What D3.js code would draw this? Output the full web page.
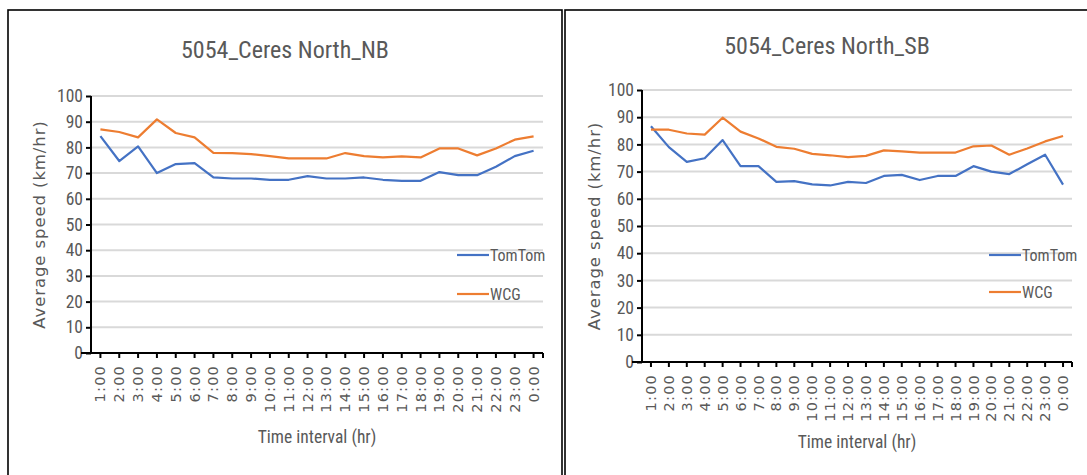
<!DOCTYPE html>
<html>
<head>
<meta charset="utf-8">
<script src="https://cdn.jsdelivr.net/npm/d3@7"></script>
<style>
  html, body { margin: 0; padding: 0; background: #fff; }
  svg { display: block; }
  .narrow { font-family: "Liberation Sans Narrow", "Roboto Condensed", "Open Sans Condensed", "Liberation Sans", sans-serif; }
</style>
</head>
<body>
<svg id="chart" width="1087" height="475"></svg>
<script>
// Hourly time intervals shared by both panels
const hours = ["1:00","2:00","3:00","4:00","5:00","6:00","7:00","8:00","9:00","10:00","11:00","12:00",
               "13:00","14:00","15:00","16:00","17:00","18:00","19:00","20:00","21:00","22:00","23:00","0:00"];
const yTicks = [0, 10, 20, 30, 40, 50, 60, 70, 80, 90, 100];
const seriesNames = ["TomTom", "WCG"];

// Northbound average speeds (km/hr)
const nbTomTom = [84.4, 74.7, 80.4, 70.0, 73.5, 73.9, 68.3, 67.9, 67.9, 67.4, 67.4, 68.8,
                  67.9, 67.9, 68.3, 67.4, 67.0, 67.0, 70.4, 69.2, 69.2, 72.5, 76.6, 78.7];
const nbWCG    = [87.0, 86.0, 83.9, 90.9, 85.6, 83.9, 77.9, 77.8, 77.4, 76.6, 75.7, 75.7,
                  75.7, 77.8, 76.6, 76.1, 76.5, 76.1, 79.6, 79.6, 76.9, 79.6, 83.0, 84.3];

// Southbound average speeds (km/hr)
const sbTomTom = [86.7, 79.0, 73.6, 74.9, 81.6, 72.0, 72.0, 66.2, 66.5, 65.3, 64.9, 66.2,
                  65.8, 68.4, 68.8, 66.9, 68.4, 68.4, 72.0, 70.0, 69.1, 72.7, 76.2, 65.2];
const sbWCG    = [85.4, 85.4, 84.0, 83.6, 89.8, 84.7, 82.2, 79.1, 78.4, 76.5, 76.0, 75.3,
                  75.8, 77.8, 77.4, 77.0, 77.0, 77.0, 79.3, 79.6, 76.2, 78.5, 81.1, 83.1];

const colors = { TomTom: "#4472C4", WCG: "#ED7D31" };
const grey = "#595959";

const svg = d3.select("#chart");

// Panel frames
svg.append("rect").attr("x", 8).attr("y", 10).attr("width", 554).attr("height", 480)
  .attr("fill", "none").attr("stroke", "#000").attr("stroke-width", 1.6);
svg.append("rect").attr("x", 565).attr("y", 10).attr("width", 540).attr("height", 480)
  .attr("fill", "none").attr("stroke", "#000").attr("stroke-width", 1.6);

const panels = [
  { title: "5054_Ceres North_NB", tomtom: nbTomTom, wcg: nbWCG,
    left: 91, right: 543, top: 96, bottom: 353, titleX: 285, titleY: 58,
    yTitleX: 45, xTitleX: 317, xTitleY: 443, legendX: 457, legendY: [255, 294] },
  { title: "5054_Ceres North_SB", tomtom: sbTomTom, wcg: sbWCG,
    left: 642, right: 1072, top: 90, bottom: 362, titleX: 827, titleY: 54,
    yTitleX: 600, xTitleX: 857, xTitleY: 448, legendX: 989, legendY: [255, 292] }
];

panels.forEach(p => {
  const g = svg.append("g");
  const x = d3.scaleBand().domain(hours).range([p.left, p.right]);
  const y = d3.scaleLinear().domain([0, 100]).range([p.bottom, p.top]);
  const cx = d => x(d) + x.bandwidth() / 2;

  // Title
  g.append("text").attr("class", "narrow")
    .attr("x", p.titleX).attr("y", p.titleY).attr("text-anchor", "middle")
    .attr("font-size", 24).attr("fill", grey).text(p.title);

  // Horizontal gridlines
  g.append("g").selectAll("line").data(yTicks.filter(v => v > 0)).join("line")
    .attr("x1", p.left).attr("x2", p.right)
    .attr("y1", d => y(d)).attr("y2", d => y(d))
    .attr("stroke", "#D9D9D9").attr("stroke-width", 2);

  // Y axis
  const yAxis = g.append("g").attr("transform", `translate(${p.left},0)`)
    .call(d3.axisLeft(y).tickValues(yTicks).tickSize(5).tickPadding(3));
  yAxis.select(".domain").attr("stroke", "#000").attr("stroke-width", 2)
    .attr("d", `M0,${p.bottom}V${p.top}`);
  yAxis.selectAll(".tick line").attr("stroke", "#000").attr("stroke-width", 2);
  yAxis.selectAll(".tick text").attr("class", "narrow").attr("font-size", 17.5).attr("fill", grey);

  // X axis
  const xAxis = g.append("g").attr("transform", `translate(0,${p.bottom})`)
    .call(d3.axisBottom(x).tickSize(5).tickPadding(8));
  xAxis.select(".domain").attr("stroke", "#000").attr("stroke-width", 2)
    .attr("d", `M${p.left - 10},0H${p.right}`);
  xAxis.selectAll(".tick line").attr("stroke", "#000").attr("stroke-width", 2);
  xAxis.selectAll(".tick text")
    .attr("font-family", "DejaVu Sans, sans-serif").attr("font-size", 14.5)
    .attr("letter-spacing", 1.2).attr("fill", grey)
    .attr("text-anchor", "end").attr("dy", "0.35em")
    .attr("transform", "translate(0,12) rotate(-90)")
    .attr("x", 0).attr("y", 0);
  // end tick at the right edge of the category axis
  g.append("line").attr("x1", p.right).attr("x2", p.right)
    .attr("y1", p.bottom).attr("y2", p.bottom + 5)
    .attr("stroke", "#000").attr("stroke-width", 2);

  // Axis titles
  g.append("text")
    .attr("transform", `translate(${p.yTitleX},${(p.top + p.bottom) / 2}) rotate(-90)`)
    .attr("text-anchor", "middle").attr("font-family", "DejaVu Sans, sans-serif")
    .attr("font-size", 16.5).attr("letter-spacing", 0.9).attr("fill", grey)
    .text("Average speed (km/hr)");
  g.append("text").attr("class", "narrow")
    .attr("x", p.xTitleX).attr("y", p.xTitleY).attr("text-anchor", "middle")
    .attr("font-size", 17.5).attr("fill", grey).text("Time interval (hr)");

  // Series lines
  const line = d3.line().x((d, i) => cx(hours[i])).y(d => y(d));
  [["TomTom", p.tomtom], ["WCG", p.wcg]].forEach(([name, vals]) => {
    g.append("path").datum(vals).attr("d", line)
      .attr("fill", "none").attr("stroke", colors[name]).attr("stroke-width", 2.2)
      .attr("stroke-linejoin", "round");
  });

  // Legend
  seriesNames.forEach((name, i) => {
    const ly = p.legendY[i];
    g.append("line").attr("x1", p.legendX).attr("x2", p.legendX + 32)
      .attr("y1", ly).attr("y2", ly)
      .attr("stroke", colors[name]).attr("stroke-width", 2.2);
    g.append("text").attr("class", "narrow")
      .attr("x", p.legendX + 33).attr("y", ly).attr("dy", "0.35em")
      .attr("font-size", 16).attr("fill", grey).text(name);
  });
});
</script>
</body>
</html>
